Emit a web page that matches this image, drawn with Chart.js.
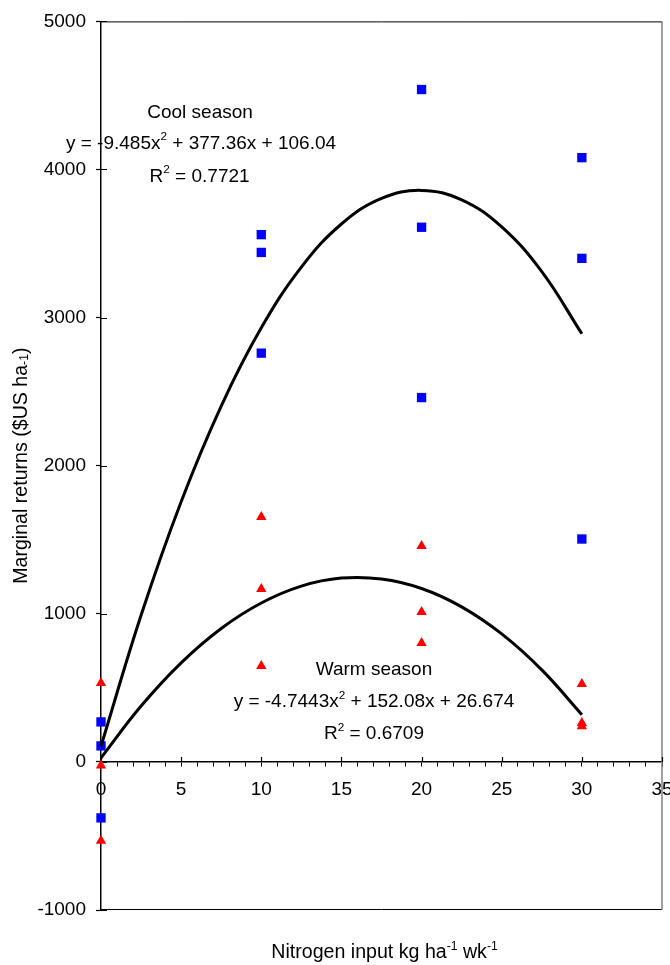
<!DOCTYPE html>
<html>
<head>
<meta charset="utf-8">
<script src="https://cdn.jsdelivr.net/npm/chart.js@4/dist/chart.umd.min.js"></script>
<style>
  body { margin: 0; background: #fff; }
  #wrap { width: 670px; height: 965px; position: relative; }
</style>
</head>
<body>
<div id="wrap"><canvas id="returns-plot"></canvas></div>
<script>
// Nitrogen rates (kg ha-1 wk-1) for each observation
const nitrogenRates = [0, 0, 0, 10, 10, 10, 20, 20, 20, 30, 30, 30];
// Marginal returns ($US ha-1)
const coolReturns = [270, 108, -378, 3560, 3440, 2760, 4540, 3610, 2460, 4080, 3400, 1505];
const warmReturns = [533, -25, -533, 1653, 1167, 648, 1457, 1012, 803, 526, 262, 240];

// Trendlines
const fitRates = [0, 2.5, 5, 7.5, 10, 12.5, 15, 17.5, 20, 22.5, 25, 27.5, 30];
const coolFit = [106, 990, 1757, 2403, 2931, 3341, 3632, 3805, 3859, 3795, 3612, 3310, 2891];
const warmFit = [27, 377, 669, 901, 1073, 1187, 1241, 1235, 1171, 1047, 864, 621, 319];

const yTicks = [-1000, 0, 1000, 2000, 3000, 4000, 5000];
const xMajorTicks = [0, 5, 10, 15, 20, 25, 30, 35];

const FONT = '"Liberation Sans", Arial, sans-serif';

function toPoints(xs, ys) {
    return xs.map((x, i) => ({ x: x, y: ys[i] }));
}

// draws a line of text with superscript / subscript pieces, centred on cx
function drawRich(ctx, runs, cx, cy, size) {
    let total = 0;
    runs.forEach(r => {
        ctx.font = (r.s ? size * 0.62 : size) + 'px ' + FONT;
        r.w = ctx.measureText(r.t).width;
        total += r.w;
    });
    let x = cx - total / 2;
    runs.forEach(r => {
        ctx.font = (r.s ? size * 0.62 : size) + 'px ' + FONT;
        let dy = 0;
        if (r.s === 'sup') dy = -size * 0.33;
        if (r.s === 'sub') dy = size * 0.12;
        ctx.fillText(r.t, x, cy + dy);
        x += r.w;
    });
}

const annotations = [
    { x: 6.18, y: 4386, runs: [{ t: 'Cool season' }] },
    { x: 6.24, y: 4176, runs: [{ t: 'y = -9.485x' }, { t: '2', s: 'sup' }, { t: ' + 377.36x + 106.04' }] },
    { x: 6.15, y: 3954, runs: [{ t: 'R' }, { t: '2', s: 'sup' }, { t: ' = 0.7721' }] },
    { x: 17.03, y: 620, runs: [{ t: 'Warm season' }] },
    { x: 17.03, y: 404, runs: [{ t: 'y = -4.7443x' }, { t: '2', s: 'sup' }, { t: ' + 152.08x + 26.674' }] },
    { x: 17.03, y: 188, runs: [{ t: 'R' }, { t: '2', s: 'sup' }, { t: ' = 0.6709' }] }
];

const extrasPlugin = {
    id: 'extras',
    beforeDatasetsDraw(chart) {
        const { ctx, chartArea: a, scales } = chart;
        ctx.save();
        // plot frame
        ctx.lineWidth = 1;
        ctx.strokeStyle = '#000';
        ctx.beginPath();
        ctx.moveTo(a.left, a.top + 0.5);
        ctx.lineTo(a.right, a.top + 0.5);
        ctx.moveTo(a.left, a.bottom - 0.5);
        ctx.lineTo(a.right, a.bottom - 0.5);
        ctx.stroke();
        ctx.strokeStyle = '#808080';
        ctx.lineWidth = 1.5;
        ctx.beginPath();
        ctx.moveTo(a.right, a.top);
        ctx.lineTo(a.right, a.bottom);
        ctx.stroke();

        // tick marks on the inner side of the axes
        ctx.strokeStyle = '#000';
        ctx.lineWidth = 1.2;
        const y0 = scales.y.getPixelForValue(0);
        ctx.beginPath();
        xMajorTicks.forEach(v => {
            const px = Math.round(scales.x.getPixelForValue(v)) + 0.5;
            ctx.moveTo(px, y0 - 5);
            ctx.lineTo(px, y0);
        });
        yTicks.forEach(v => {
            const py = Math.round(scales.y.getPixelForValue(v)) + 0.5;
            ctx.moveTo(a.left, py);
            ctx.lineTo(a.left + 6, py);
        });
        ctx.stroke();
        ctx.restore();
    },
    afterDatasetsDraw(chart) {
        const { ctx, chartArea: a, scales } = chart;
        ctx.save();
        ctx.fillStyle = '#000';
        ctx.textBaseline = 'middle';
        annotations.forEach(an => {
            drawRich(ctx, an.runs, scales.x.getPixelForValue(an.x), scales.y.getPixelForValue(an.y), 19);
        });

        // x axis title
        drawRich(ctx, [{ t: 'Nitrogen input kg ha' }, { t: '-1', s: 'sup' }, { t: ' wk' }, { t: '-1', s: 'sup' }],
            (a.left + a.right) / 2 + 3, 953, 19.6);

        // y axis title
        ctx.translate(22, (a.top + a.bottom) / 2);
        ctx.rotate(-Math.PI / 2);
        drawRich(ctx, [{ t: 'Marginal returns ($US ha' }, { t: '-1', s: 'sub' }, { t: ')' }], 0, 0, 19.6);
        ctx.restore();
    }
};

new Chart(document.getElementById('returns-plot'), {
    type: 'scatter',
    data: {
        datasets: [
            {
                label: 'Cool season trend',
                data: toPoints(fitRates, coolFit),
                showLine: true,
                borderColor: '#000',
                borderWidth: 3,
                pointRadius: 0,
                tension: 0.4,
                clip: false
            },
            {
                label: 'Warm season trend',
                data: toPoints(fitRates, warmFit),
                showLine: true,
                borderColor: '#000',
                borderWidth: 3,
                pointRadius: 0,
                tension: 0.4,
                clip: false
            },
            {
                label: 'Cool season',
                data: toPoints(nitrogenRates, coolReturns),
                pointStyle: 'rect',
                pointRadius: 6.6,
                backgroundColor: '#0000ff',
                borderColor: '#0000ff',
                borderWidth: 0,
                clip: false
            },
            {
                label: 'Warm season',
                data: toPoints(nitrogenRates, warmReturns),
                pointStyle: 'triangle',
                pointRadius: 6,
                backgroundColor: '#ff0000',
                borderColor: '#ff0000',
                borderWidth: 0,
                clip: false
            }
        ]
    },
    options: {
        responsive: true,
        maintainAspectRatio: false,
        animation: false,
        layout: { padding: { left: 0, top: 21, right: 8, bottom: 55 } },
        plugins: {
            legend: { display: false },
            tooltip: { enabled: false }
        },
        scales: {
            x: {
                type: 'linear',
                position: { y: 0 },
                min: 0,
                max: 35,
                afterFit: (scale) => { scale.paddingLeft = 0; scale.paddingRight = 0; },
                grid: { drawOnChartArea: false, tickLength: 4, tickColor: '#000', tickWidth: 1 },
                border: { color: '#000', width: 1.5 },
                ticks: {
                    stepSize: 1,
                    autoSkip: false,
                    maxRotation: 0,
                    padding: 12,
                    color: '#000',
                    font: { family: FONT, size: 19 },
                    callback: (v) => (v % 5 === 0 ? String(v) : '')
                }
            },
            y: {
                type: 'linear',
                position: 'left',
                min: -1000,
                max: 5000,
                afterFit: (scale) => { scale.width = 101; },
                grid: { drawOnChartArea: false, tickLength: 5, tickColor: '#000', tickWidth: 1.2 },
                border: { color: '#000', width: 1.5 },
                ticks: {
                    stepSize: 1000,
                    padding: 10,
                    color: '#000',
                    font: { family: FONT, size: 19 },
                    callback: (v) => String(v)
                }
            }
        }
    },
    plugins: [extrasPlugin]
});
</script>
</body>
</html>
